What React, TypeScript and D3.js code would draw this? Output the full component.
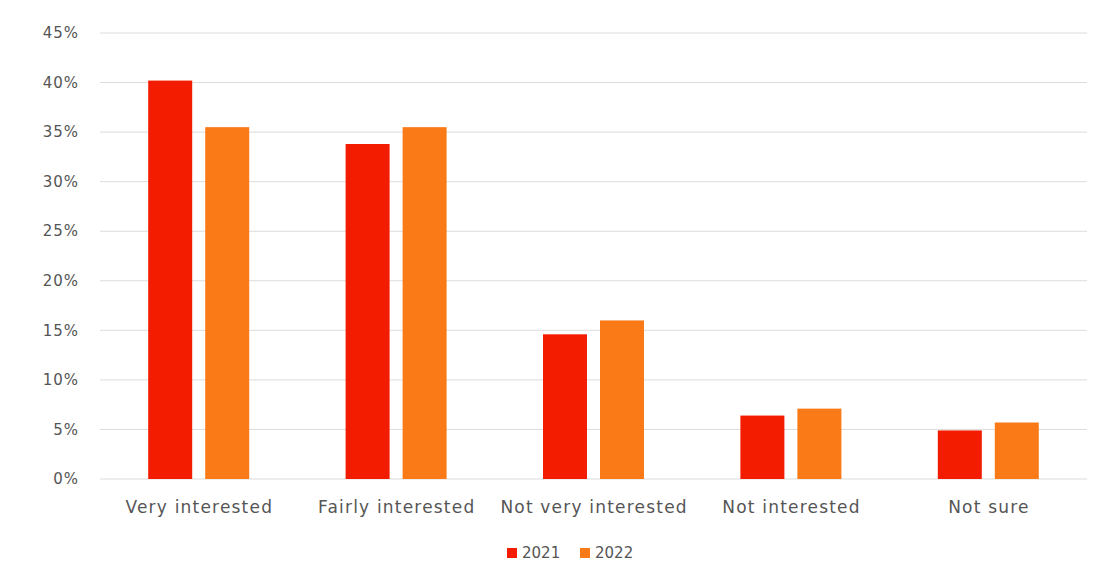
import React from "react";
import * as d3 from "d3";

const categories = ["Very interested", "Fairly interested", "Not very interested", "Not interested", "Not sure"];
const series = ["2021", "2022"];
const values2021 = [40.2, 33.8, 14.6, 6.4, 4.9];
const values2022 = [35.5, 35.5, 16.0, 7.1, 5.7];
const yTicks = [0, 5, 10, 15, 20, 25, 30, 35, 40, 45];
const colors = ["#F41C00", "#F97A17"];

const W = 1103, H = 579;
const left = 100, right = 1087, top = 33, bottom = 479;

export default function App() {
  const x = d3.scaleBand<string>().domain(categories).range([left, right]).paddingInner(0).paddingOuter(0);
  const y = d3.scaleLinear().domain([0, 45]).range([bottom, top]);
  const barW = 44;
  const gap = 13;
  const seriesVals = [values2021, values2022];
  const font = "'DejaVu Sans', sans-serif";
  return (
    <div style={{ position: "absolute", left: 0, top: 0 }}>
      <svg width={W} height={H} style={{ display: "block", background: "#fff" }}>
        {yTicks.map((t) => (
          <g key={t}>
            <line x1={left} x2={right} y1={y(t)} y2={y(t)} stroke="#dcdcdc" strokeWidth={1} />
            <text x={79} y={y(t)} dy="0.35em" textAnchor="end" fontFamily={font} fontSize={15} letterSpacing={1} fill="#555">
              {t}%
            </text>
          </g>
        ))}
        {categories.map((c, i) => {
          const cx = (x(c) as number) + x.bandwidth() / 2;
          return (
            <g key={c}>
              {seriesVals.map((vals, s) => {
                const bx = s === 0 ? cx - gap / 2 - barW : cx + gap / 2;
                return (
                  <rect key={s} x={bx} y={y(vals[i])} width={barW} height={y(0) - y(vals[i])} fill={colors[s]} />
                );
              })}
              <text x={cx + 0.6} y={507} dy="0.35em" textAnchor="middle" fontFamily={font} fontSize={17} letterSpacing={1.2} fill="#555">
                {c}
              </text>
            </g>
          );
        })}
        {series.map((s, k) => {
          const lx = 507 + k * 73;
          return (
            <g key={s}>
              <rect x={lx} y={548} width={10} height={10} fill={colors[k]} />
              <text x={lx + 15} y={553} dy="0.35em" fontFamily={font} fontSize={15} fill="#555">
                {s}
              </text>
            </g>
          );
        })}
      </svg>
    </div>
  );
}
